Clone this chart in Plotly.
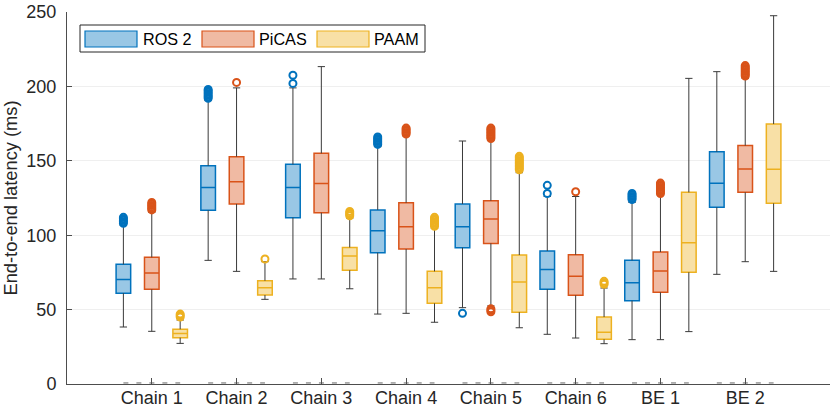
import plotly.graph_objects as go

categories = ["Chain 1", "Chain 2", "Chain 3", "Chain 4", "Chain 5", "Chain 6", "BE 1", "BE 2"]
series_names = ["ROS 2", "PiCAS", "PAAM"]

# ROS 2 statistics (ms)
ros2_q1 = [61.0, 116.7, 111.8, 88.2, 91.6, 63.6, 56.0, 118.7]
ros2_med = [70.3, 132.1, 132.1, 103.0, 105.7, 77.0, 68.1, 134.9]
ros2_q3 = [80.4, 146.7, 147.6, 117.0, 121.0, 89.4, 83.1, 156.1]
ros2_lo = [38.3, 83.1, 70.6, 47.0, 51.3, 33.4, 29.8, 73.7]
ros2_hi = [106.5, 190.5, 199.0, 159.5, 163.3, 126.0, 122.0, 209.9]
ros2_out = [[108, 109, 110, 111, 112], [192, 193, 194, 195, 196, 197, 198], [202, 207.5],
            [161, 162, 163, 164, 165, 166], [47.5], [128, 133.5], [124, 125, 126, 127, 128], []]

# PiCAS statistics (ms)
picas_q1 = [63.6, 121.0, 115.1, 90.7, 94.5, 59.6, 61.6, 128.8]
picas_med = [74.6, 136.0, 134.8, 105.7, 110.9, 72.4, 75.9, 144.5]
picas_q3 = [85.1, 152.8, 155.0, 121.8, 123.2, 86.9, 88.7, 160.2]
picas_lo = [35.4, 75.7, 70.6, 47.5, 52.5, 30.9, 29.8, 82.2]
picas_hi = [115.4, 199.0, 213.3, 166.7, 164.0, 126.0, 127.0, 205.4]
picas_out = [[117, 118, 119, 120, 121, 122], [202.7], [], [168, 169, 170, 171, 172],
             [48.5, 49.5, 50.5, 165, 166, 167, 168, 169, 170, 171, 172],
             [129.2], [128, 129, 130, 131, 132, 133, 134, 135],
             [207, 208, 209, 210, 211, 212, 213, 214]]

# PAAM statistics (ms)
paam_q1 = [31.1, 59.8, 76.4, 54.2, 48.2, 30.0, 75.1, 121.4]
paam_med = [34.0, 64.7, 86.0, 64.7, 68.5, 34.7, 95.0, 144.3]
paam_q3 = [36.8, 69.4, 91.8, 75.7, 86.7, 45.0, 128.8, 174.7]
paam_lo = [27.3, 56.9, 64.0, 41.5, 37.8, 27.1, 35.2, 75.7]
paam_hi = [43.0, 82.2, 111.5, 104.6, 142.0, 64.5, 205.4, 247.5]
paam_out = [[45, 46, 47], [84], [113, 114, 115, 116], [106, 107, 108, 109, 110, 111, 112],
            [144, 145, 146, 147, 148, 149, 150, 151, 152, 153], [67, 68, 69], [], []]

y_ticks = [0, 50, 100, 150, 200, 250]

edge_colors = ["#0072BD", "#D95319", "#EDB120"]
fill_colors = ["#99C7E5", "#F0BAA3", "#F8E0A6"]
offsets = [-0.335, 0.0, 0.335]
box_w = 0.172
cap_hw = 0.043
FONT = "Liberation Sans, Arial, Helvetica, sans-serif"

stats = [
    (ros2_q1, ros2_med, ros2_q3, ros2_lo, ros2_hi, ros2_out),
    (picas_q1, picas_med, picas_q3, picas_lo, picas_hi, picas_out),
    (paam_q1, paam_med, paam_q3, paam_lo, paam_hi, paam_out),
]

centers = list(range(1, len(categories) + 1))
fig = go.Figure()

# faint dashed group markers along the baseline
gx, gy = [], []
for c in centers:
    gx += [c + offsets[0], c + offsets[-1], None]
    gy += [0.7, 0.7, None]
fig.add_trace(go.Scatter(x=gx, y=gy, mode="lines", showlegend=False, hoverinfo="skip",
                         line=dict(color="#666666", width=1, dash="5px,8px")))

for s, (q1, med, q3, lo, hi, out) in enumerate(stats):
    xs = [c + offsets[s] for c in centers]
    fig.add_trace(go.Box(
        x=xs, q1=q1, median=med, q3=q3, lowerfence=q1, upperfence=q3,
        name=series_names[s], width=box_w, whiskerwidth=0,
        fillcolor=fill_colors[s], line=dict(color=edge_colors[s], width=1.5),
        boxpoints=False, showlegend=False, hoverinfo="skip",
    ))
    wx, wy = [], []
    for i, x in enumerate(xs):
        wx += [x, x, None, x, x, None, x - cap_hw, x + cap_hw, None, x - cap_hw, x + cap_hw, None]
        wy += [q3[i], hi[i], None, q1[i], lo[i], None, hi[i], hi[i], None, lo[i], lo[i], None]
    fig.add_trace(go.Scatter(x=wx, y=wy, mode="lines", showlegend=False, hoverinfo="skip",
                             line=dict(color="#3a3a3a", width=1)))
    ox, oy = [], []
    for i, x in enumerate(xs):
        for v in out[i]:
            ox.append(x)
            oy.append(v)
    fig.add_trace(go.Scatter(x=ox, y=oy, mode="markers", showlegend=False, hoverinfo="skip",
                             marker=dict(symbol="circle-open", size=7, color=edge_colors[s],
                                         line=dict(width=2, color=edge_colors[s]))))

# custom legend (MATLAB style wide patches)
shapes = [dict(type="rect", xref="paper", yref="paper", xsizemode="pixel", ysizemode="pixel",
               xanchor=0, yanchor=1, x0=13, x1=358, y0=-13, y1=-40,
               line=dict(color="#262626", width=1), fillcolor="white", layer="above")]
annotations = []
patch_x = [18, 135, 250]
text_x = [74, 190, 305]
for s in range(3):
    shapes.append(dict(type="rect", xref="paper", yref="paper", xsizemode="pixel", ysizemode="pixel",
                       xanchor=0, yanchor=1, x0=patch_x[s], x1=patch_x[s] + 52, y0=-19, y1=-35,
                       line=dict(color=edge_colors[s], width=1.2), fillcolor=fill_colors[s],
                       layer="above"))
    annotations.append(dict(text=series_names[s], xref="paper", yref="paper", x=0, y=1,
                            xshift=text_x[s], yshift=-27, xanchor="left", yanchor="middle",
                            showarrow=False, font=dict(family=FONT, size=16.2, color="#000000")))

fig.update_layout(
    width=830, height=415,
    margin=dict(l=67, r=0, t=12, b=31),
    paper_bgcolor="white", plot_bgcolor="white",
    boxmode="overlay",
    font=dict(family=FONT, size=18, color="#262626"),
    shapes=shapes, annotations=annotations,
    showlegend=False,
)
fig.update_xaxes(range=[0, 9], tickvals=centers, ticktext=categories,
                 ticks="inside", ticklen=6, tickcolor="#4d4d4d",
                 showline=True, linecolor="#4d4d4d", linewidth=1,
                 showgrid=False, zeroline=False, ticklabelstandoff=-3)
fig.update_yaxes(range=[0, 250], tickvals=y_ticks,
                 ticks="inside", ticklen=5, tickcolor="#4d4d4d",
                 showline=True, linecolor="#4d4d4d", linewidth=1,
                 showgrid=True, gridcolor="#EFEFEF", gridwidth=1, zeroline=False,
                 title=dict(text="End-to-end latency (ms)", font=dict(size=18.3), standoff=5),
                 ticklabelstandoff=6)

fig.write_html("out.html", config={"displayModeBar": False},
               post_script="document.body.style.margin='0';document.body.style.overflow='hidden';")
